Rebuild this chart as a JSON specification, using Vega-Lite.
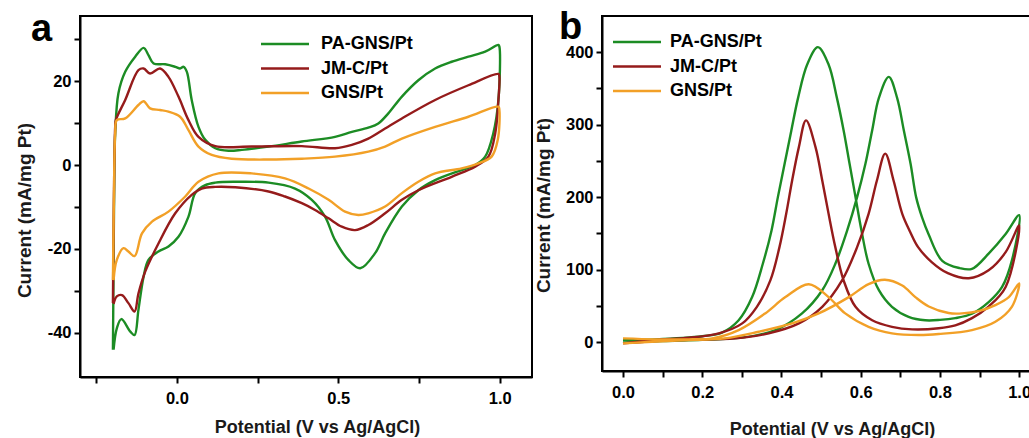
{
"$schema": "https://vega.github.io/schema/vega-lite/v6.json",
"background": "white",
"padding": {"left": 14, "top": 8, "right": 0, "bottom": 0},
"spacing": 0,
"datasets": {
"cv": [
{"s":"PA-GNS/Pt","i":1,"v":-0.198,"c":-44.0},{"s":"PA-GNS/Pt","i":2,"v":-0.196,"c":-24.2},{"s":"PA-GNS/Pt","i":3,"v":-0.194,"c":-4.4},{"s":"PA-GNS/Pt","i":4,"v":-0.191,"c":7.5},{"s":"PA-GNS/Pt","i":5,"v":-0.181,"c":17.1},{"s":"PA-GNS/Pt","i":6,"v":-0.160,"c":22.2},{"s":"PA-GNS/Pt","i":7,"v":-0.129,"c":25.8},{"s":"PA-GNS/Pt","i":8,"v":-0.103,"c":27.9},{"s":"PA-GNS/Pt","i":9,"v":-0.088,"c":26.2},{"s":"PA-GNS/Pt","i":10,"v":-0.072,"c":24.2},{"s":"PA-GNS/Pt","i":11,"v":-0.036,"c":24.0},{"s":"PA-GNS/Pt","i":12,"v":-0.005,"c":23.4},{"s":"PA-GNS/Pt","i":13,"v":0.010,"c":23.0},{"s":"PA-GNS/Pt","i":14,"v":0.021,"c":23.4},{"s":"PA-GNS/Pt","i":15,"v":0.031,"c":22.2},{"s":"PA-GNS/Pt","i":16,"v":0.046,"c":15.5},{"s":"PA-GNS/Pt","i":17,"v":0.067,"c":9.1},{"s":"PA-GNS/Pt","i":18,"v":0.088,"c":6.0},{"s":"PA-GNS/Pt","i":19,"v":0.119,"c":4.0},{"s":"PA-GNS/Pt","i":20,"v":0.160,"c":3.4},{"s":"PA-GNS/Pt","i":21,"v":0.201,"c":3.6},{"s":"PA-GNS/Pt","i":22,"v":0.284,"c":4.4},{"s":"PA-GNS/Pt","i":23,"v":0.387,"c":5.6},{"s":"PA-GNS/Pt","i":24,"v":0.490,"c":6.7},{"s":"PA-GNS/Pt","i":25,"v":0.542,"c":7.9},{"s":"PA-GNS/Pt","i":26,"v":0.593,"c":8.9},{"s":"PA-GNS/Pt","i":27,"v":0.624,"c":9.9},{"s":"PA-GNS/Pt","i":28,"v":0.655,"c":12.3},{"s":"PA-GNS/Pt","i":29,"v":0.697,"c":16.3},{"s":"PA-GNS/Pt","i":30,"v":0.748,"c":20.2},{"s":"PA-GNS/Pt","i":31,"v":0.800,"c":23.0},{"s":"PA-GNS/Pt","i":32,"v":0.851,"c":24.6},{"s":"PA-GNS/Pt","i":33,"v":0.903,"c":25.8},{"s":"PA-GNS/Pt","i":34,"v":0.955,"c":27.0},{"s":"PA-GNS/Pt","i":35,"v":0.996,"c":28.6},{"s":"PA-GNS/Pt","i":36,"v":0.999,"c":28.2},{"s":"PA-GNS/Pt","i":37,"v":0.996,"c":15.5},{"s":"PA-GNS/Pt","i":38,"v":0.980,"c":7.5},{"s":"PA-GNS/Pt","i":39,"v":0.955,"c":2.0},{"s":"PA-GNS/Pt","i":40,"v":0.924,"c":0.0},{"s":"PA-GNS/Pt","i":41,"v":0.882,"c":-1.2},{"s":"PA-GNS/Pt","i":42,"v":0.800,"c":-3.6},{"s":"PA-GNS/Pt","i":43,"v":0.748,"c":-6.0},{"s":"PA-GNS/Pt","i":44,"v":0.697,"c":-9.9},{"s":"PA-GNS/Pt","i":45,"v":0.645,"c":-16.3},{"s":"PA-GNS/Pt","i":46,"v":0.614,"c":-21.0},{"s":"PA-GNS/Pt","i":47,"v":0.568,"c":-24.6},{"s":"PA-GNS/Pt","i":48,"v":0.531,"c":-22.6},{"s":"PA-GNS/Pt","i":49,"v":0.490,"c":-17.9},{"s":"PA-GNS/Pt","i":50,"v":0.459,"c":-12.3},{"s":"PA-GNS/Pt","i":51,"v":0.418,"c":-8.3},{"s":"PA-GNS/Pt","i":52,"v":0.366,"c":-5.6},{"s":"PA-GNS/Pt","i":53,"v":0.284,"c":-4.2},{"s":"PA-GNS/Pt","i":54,"v":0.181,"c":-4.0},{"s":"PA-GNS/Pt","i":55,"v":0.119,"c":-4.2},{"s":"PA-GNS/Pt","i":56,"v":0.088,"c":-4.8},{"s":"PA-GNS/Pt","i":57,"v":0.057,"c":-6.7},{"s":"PA-GNS/Pt","i":58,"v":0.036,"c":-12.3},{"s":"PA-GNS/Pt","i":59,"v":0.005,"c":-17.1},{"s":"PA-GNS/Pt","i":60,"v":-0.026,"c":-19.4},{"s":"PA-GNS/Pt","i":61,"v":-0.057,"c":-20.6},{"s":"PA-GNS/Pt","i":62,"v":-0.088,"c":-22.6},{"s":"PA-GNS/Pt","i":63,"v":-0.103,"c":-26.6},{"s":"PA-GNS/Pt","i":64,"v":-0.119,"c":-34.5},{"s":"PA-GNS/Pt","i":65,"v":-0.131,"c":-40.5},{"s":"PA-GNS/Pt","i":66,"v":-0.144,"c":-39.7},{"s":"PA-GNS/Pt","i":67,"v":-0.172,"c":-36.7},{"s":"PA-GNS/Pt","i":68,"v":-0.186,"c":-38.9},{"s":"PA-GNS/Pt","i":69,"v":-0.196,"c":-44.0},
{"s":"JM-C/Pt","i":1,"v":-0.198,"c":-32.9},{"s":"JM-C/Pt","i":2,"v":-0.195,"c":-8.3},{"s":"JM-C/Pt","i":3,"v":-0.191,"c":9.1},{"s":"JM-C/Pt","i":4,"v":-0.189,"c":10.7},{"s":"JM-C/Pt","i":5,"v":-0.160,"c":15.5},{"s":"JM-C/Pt","i":6,"v":-0.119,"c":22.6},{"s":"JM-C/Pt","i":7,"v":-0.103,"c":23.0},{"s":"JM-C/Pt","i":8,"v":-0.083,"c":21.8},{"s":"JM-C/Pt","i":9,"v":-0.052,"c":23.0},{"s":"JM-C/Pt","i":10,"v":-0.026,"c":21.0},{"s":"JM-C/Pt","i":11,"v":0.005,"c":16.3},{"s":"JM-C/Pt","i":12,"v":0.036,"c":10.7},{"s":"JM-C/Pt","i":13,"v":0.067,"c":6.7},{"s":"JM-C/Pt","i":14,"v":0.119,"c":4.5},{"s":"JM-C/Pt","i":15,"v":0.232,"c":4.4},{"s":"JM-C/Pt","i":16,"v":0.387,"c":4.5},{"s":"JM-C/Pt","i":17,"v":0.490,"c":4.0},{"s":"JM-C/Pt","i":18,"v":0.542,"c":4.8},{"s":"JM-C/Pt","i":19,"v":0.593,"c":6.3},{"s":"JM-C/Pt","i":20,"v":0.645,"c":8.7},{"s":"JM-C/Pt","i":21,"v":0.697,"c":11.1},{"s":"JM-C/Pt","i":22,"v":0.800,"c":15.5},{"s":"JM-C/Pt","i":23,"v":0.903,"c":19.0},{"s":"JM-C/Pt","i":24,"v":0.996,"c":21.7},{"s":"JM-C/Pt","i":25,"v":0.999,"c":21.0},{"s":"JM-C/Pt","i":26,"v":0.996,"c":15.5},{"s":"JM-C/Pt","i":27,"v":0.986,"c":7.5},{"s":"JM-C/Pt","i":28,"v":0.965,"c":2.0},{"s":"JM-C/Pt","i":29,"v":0.924,"c":-0.4},{"s":"JM-C/Pt","i":30,"v":0.851,"c":-2.8},{"s":"JM-C/Pt","i":31,"v":0.748,"c":-6.0},{"s":"JM-C/Pt","i":32,"v":0.697,"c":-8.3},{"s":"JM-C/Pt","i":33,"v":0.645,"c":-11.5},{"s":"JM-C/Pt","i":34,"v":0.593,"c":-14.3},{"s":"JM-C/Pt","i":35,"v":0.552,"c":-15.5},{"s":"JM-C/Pt","i":36,"v":0.511,"c":-14.7},{"s":"JM-C/Pt","i":37,"v":0.470,"c":-12.7},{"s":"JM-C/Pt","i":38,"v":0.428,"c":-10.7},{"s":"JM-C/Pt","i":39,"v":0.387,"c":-9.1},{"s":"JM-C/Pt","i":40,"v":0.335,"c":-7.5},{"s":"JM-C/Pt","i":41,"v":0.284,"c":-6.3},{"s":"JM-C/Pt","i":42,"v":0.181,"c":-5.3},{"s":"JM-C/Pt","i":43,"v":0.119,"c":-5.2},{"s":"JM-C/Pt","i":44,"v":0.077,"c":-5.6},{"s":"JM-C/Pt","i":45,"v":0.046,"c":-7.1},{"s":"JM-C/Pt","i":46,"v":-0.005,"c":-11.5},{"s":"JM-C/Pt","i":47,"v":-0.057,"c":-18.7},{"s":"JM-C/Pt","i":48,"v":-0.098,"c":-25.4},{"s":"JM-C/Pt","i":49,"v":-0.119,"c":-30.6},{"s":"JM-C/Pt","i":50,"v":-0.131,"c":-34.9},{"s":"JM-C/Pt","i":51,"v":-0.150,"c":-32.9},{"s":"JM-C/Pt","i":52,"v":-0.170,"c":-31.0},{"s":"JM-C/Pt","i":53,"v":-0.186,"c":-31.3},{"s":"JM-C/Pt","i":54,"v":-0.196,"c":-33.1},
{"s":"GNS/Pt","i":1,"v":-0.198,"c":-27.4},{"s":"GNS/Pt","i":2,"v":-0.195,"c":-8.3},{"s":"GNS/Pt","i":3,"v":-0.191,"c":7.5},{"s":"GNS/Pt","i":4,"v":-0.186,"c":10.7},{"s":"GNS/Pt","i":5,"v":-0.160,"c":11.1},{"s":"GNS/Pt","i":6,"v":-0.119,"c":14.3},{"s":"GNS/Pt","i":7,"v":-0.103,"c":15.2},{"s":"GNS/Pt","i":8,"v":-0.083,"c":13.5},{"s":"GNS/Pt","i":9,"v":-0.052,"c":13.1},{"s":"GNS/Pt","i":10,"v":-0.026,"c":12.7},{"s":"GNS/Pt","i":11,"v":0.010,"c":11.5},{"s":"GNS/Pt","i":12,"v":0.036,"c":8.3},{"s":"GNS/Pt","i":13,"v":0.067,"c":4.4},{"s":"GNS/Pt","i":14,"v":0.108,"c":2.4},{"s":"GNS/Pt","i":15,"v":0.170,"c":1.5},{"s":"GNS/Pt","i":16,"v":0.284,"c":1.3},{"s":"GNS/Pt","i":17,"v":0.387,"c":1.5},{"s":"GNS/Pt","i":18,"v":0.490,"c":2.0},{"s":"GNS/Pt","i":19,"v":0.593,"c":3.2},{"s":"GNS/Pt","i":20,"v":0.645,"c":4.4},{"s":"GNS/Pt","i":21,"v":0.697,"c":6.3},{"s":"GNS/Pt","i":22,"v":0.800,"c":9.1},{"s":"GNS/Pt","i":23,"v":0.903,"c":11.5},{"s":"GNS/Pt","i":24,"v":0.996,"c":13.9},{"s":"GNS/Pt","i":25,"v":0.999,"c":13.1},{"s":"GNS/Pt","i":26,"v":0.994,"c":6.0},{"s":"GNS/Pt","i":27,"v":0.975,"c":2.0},{"s":"GNS/Pt","i":28,"v":0.934,"c":0.4},{"s":"GNS/Pt","i":29,"v":0.882,"c":-0.8},{"s":"GNS/Pt","i":30,"v":0.800,"c":-2.0},{"s":"GNS/Pt","i":31,"v":0.748,"c":-4.0},{"s":"GNS/Pt","i":32,"v":0.697,"c":-6.7},{"s":"GNS/Pt","i":33,"v":0.645,"c":-9.9},{"s":"GNS/Pt","i":34,"v":0.593,"c":-11.5},{"s":"GNS/Pt","i":35,"v":0.562,"c":-11.9},{"s":"GNS/Pt","i":36,"v":0.521,"c":-11.1},{"s":"GNS/Pt","i":37,"v":0.470,"c":-8.3},{"s":"GNS/Pt","i":38,"v":0.408,"c":-5.6},{"s":"GNS/Pt","i":39,"v":0.335,"c":-3.2},{"s":"GNS/Pt","i":40,"v":0.232,"c":-2.0},{"s":"GNS/Pt","i":41,"v":0.129,"c":-2.0},{"s":"GNS/Pt","i":42,"v":0.067,"c":-4.0},{"s":"GNS/Pt","i":43,"v":0.026,"c":-7.5},{"s":"GNS/Pt","i":44,"v":-0.026,"c":-11.1},{"s":"GNS/Pt","i":45,"v":-0.077,"c":-13.5},{"s":"GNS/Pt","i":46,"v":-0.108,"c":-16.3},{"s":"GNS/Pt","i":47,"v":-0.131,"c":-21.7},{"s":"GNS/Pt","i":48,"v":-0.150,"c":-20.6},{"s":"GNS/Pt","i":49,"v":-0.165,"c":-19.8},{"s":"GNS/Pt","i":50,"v":-0.186,"c":-22.6},{"s":"GNS/Pt","i":51,"v":-0.196,"c":-27.4}
],
"lsv": [
{"s":"PA-GNS/Pt","i":1,"v":0.000,"c":2.8},{"s":"PA-GNS/Pt","i":2,"v":0.082,"c":3.7},{"s":"PA-GNS/Pt","i":3,"v":0.150,"c":5.5},{"s":"PA-GNS/Pt","i":4,"v":0.200,"c":8},{"s":"PA-GNS/Pt","i":5,"v":0.250,"c":13},{"s":"PA-GNS/Pt","i":6,"v":0.292,"c":30},{"s":"PA-GNS/Pt","i":7,"v":0.326,"c":62},{"s":"PA-GNS/Pt","i":8,"v":0.353,"c":108},{"s":"PA-GNS/Pt","i":9,"v":0.375,"c":154},{"s":"PA-GNS/Pt","i":10,"v":0.391,"c":200},{"s":"PA-GNS/Pt","i":11,"v":0.408,"c":246},{"s":"PA-GNS/Pt","i":12,"v":0.425,"c":292},{"s":"PA-GNS/Pt","i":13,"v":0.442,"c":337},{"s":"PA-GNS/Pt","i":14,"v":0.465,"c":383},{"s":"PA-GNS/Pt","i":15,"v":0.492,"c":407},{"s":"PA-GNS/Pt","i":16,"v":0.519,"c":383},{"s":"PA-GNS/Pt","i":17,"v":0.540,"c":337},{"s":"PA-GNS/Pt","i":18,"v":0.557,"c":292},{"s":"PA-GNS/Pt","i":19,"v":0.572,"c":246},{"s":"PA-GNS/Pt","i":20,"v":0.587,"c":200},{"s":"PA-GNS/Pt","i":21,"v":0.602,"c":154},{"s":"PA-GNS/Pt","i":22,"v":0.620,"c":108},{"s":"PA-GNS/Pt","i":23,"v":0.646,"c":71.5},{"s":"PA-GNS/Pt","i":24,"v":0.679,"c":48.6},{"s":"PA-GNS/Pt","i":25,"v":0.721,"c":34.8},{"s":"PA-GNS/Pt","i":26,"v":0.763,"c":30},{"s":"PA-GNS/Pt","i":27,"v":0.800,"c":30.5},{"s":"PA-GNS/Pt","i":28,"v":0.839,"c":33},{"s":"PA-GNS/Pt","i":29,"v":0.881,"c":39},{"s":"PA-GNS/Pt","i":30,"v":0.923,"c":55},{"s":"PA-GNS/Pt","i":31,"v":0.957,"c":76},{"s":"PA-GNS/Pt","i":32,"v":0.982,"c":113},{"s":"PA-GNS/Pt","i":33,"v":1.000,"c":175},{"s":"PA-GNS/Pt","i":34,"v":0.966,"c":149},{"s":"PA-GNS/Pt","i":35,"v":0.923,"c":122},{"s":"PA-GNS/Pt","i":36,"v":0.881,"c":101},{"s":"PA-GNS/Pt","i":37,"v":0.850,"c":102},{"s":"PA-GNS/Pt","i":38,"v":0.806,"c":112},{"s":"PA-GNS/Pt","i":39,"v":0.772,"c":148},{"s":"PA-GNS/Pt","i":40,"v":0.755,"c":172},{"s":"PA-GNS/Pt","i":41,"v":0.740,"c":200},{"s":"PA-GNS/Pt","i":42,"v":0.726,"c":246},{"s":"PA-GNS/Pt","i":43,"v":0.709,"c":292},{"s":"PA-GNS/Pt","i":44,"v":0.692,"c":337},{"s":"PA-GNS/Pt","i":45,"v":0.671,"c":366},{"s":"PA-GNS/Pt","i":46,"v":0.646,"c":337},{"s":"PA-GNS/Pt","i":47,"v":0.629,"c":292},{"s":"PA-GNS/Pt","i":48,"v":0.612,"c":246},{"s":"PA-GNS/Pt","i":49,"v":0.591,"c":200},{"s":"PA-GNS/Pt","i":50,"v":0.566,"c":154},{"s":"PA-GNS/Pt","i":51,"v":0.536,"c":108},{"s":"PA-GNS/Pt","i":52,"v":0.503,"c":71.5},{"s":"PA-GNS/Pt","i":53,"v":0.452,"c":39.5},{"s":"PA-GNS/Pt","i":54,"v":0.385,"c":16.5},{"s":"PA-GNS/Pt","i":55,"v":0.300,"c":6},{"s":"PA-GNS/Pt","i":56,"v":0.200,"c":3},{"s":"PA-GNS/Pt","i":57,"v":0.100,"c":1.5},{"s":"PA-GNS/Pt","i":58,"v":0.000,"c":-1.0},
{"s":"JM-C/Pt","i":1,"v":0.000,"c":-1.8},{"s":"JM-C/Pt","i":2,"v":0.082,"c":2.8},{"s":"JM-C/Pt","i":3,"v":0.166,"c":6},{"s":"JM-C/Pt","i":4,"v":0.242,"c":12},{"s":"JM-C/Pt","i":5,"v":0.301,"c":25.7},{"s":"JM-C/Pt","i":6,"v":0.338,"c":48.6},{"s":"JM-C/Pt","i":7,"v":0.372,"c":85},{"s":"JM-C/Pt","i":8,"v":0.395,"c":131},{"s":"JM-C/Pt","i":9,"v":0.412,"c":177},{"s":"JM-C/Pt","i":10,"v":0.427,"c":223},{"s":"JM-C/Pt","i":11,"v":0.444,"c":269},{"s":"JM-C/Pt","i":12,"v":0.462,"c":306},{"s":"JM-C/Pt","i":13,"v":0.486,"c":269},{"s":"JM-C/Pt","i":14,"v":0.503,"c":223},{"s":"JM-C/Pt","i":15,"v":0.519,"c":177},{"s":"JM-C/Pt","i":16,"v":0.536,"c":131},{"s":"JM-C/Pt","i":17,"v":0.557,"c":85},{"s":"JM-C/Pt","i":18,"v":0.587,"c":48.6},{"s":"JM-C/Pt","i":19,"v":0.629,"c":30},{"s":"JM-C/Pt","i":20,"v":0.679,"c":21},{"s":"JM-C/Pt","i":21,"v":0.730,"c":17.5},{"s":"JM-C/Pt","i":22,"v":0.797,"c":19},{"s":"JM-C/Pt","i":23,"v":0.839,"c":23},{"s":"JM-C/Pt","i":24,"v":0.881,"c":33},{"s":"JM-C/Pt","i":25,"v":0.923,"c":49},{"s":"JM-C/Pt","i":26,"v":0.966,"c":76},{"s":"JM-C/Pt","i":27,"v":1.000,"c":161},{"s":"JM-C/Pt","i":28,"v":0.966,"c":124},{"s":"JM-C/Pt","i":29,"v":0.923,"c":99},{"s":"JM-C/Pt","i":30,"v":0.873,"c":88},{"s":"JM-C/Pt","i":31,"v":0.820,"c":95},{"s":"JM-C/Pt","i":32,"v":0.780,"c":110},{"s":"JM-C/Pt","i":33,"v":0.745,"c":131},{"s":"JM-C/Pt","i":34,"v":0.725,"c":152},{"s":"JM-C/Pt","i":35,"v":0.705,"c":177},{"s":"JM-C/Pt","i":36,"v":0.683,"c":223},{"s":"JM-C/Pt","i":37,"v":0.662,"c":260},{"s":"JM-C/Pt","i":38,"v":0.641,"c":223},{"s":"JM-C/Pt","i":39,"v":0.620,"c":177},{"s":"JM-C/Pt","i":40,"v":0.591,"c":131},{"s":"JM-C/Pt","i":41,"v":0.553,"c":85},{"s":"JM-C/Pt","i":42,"v":0.503,"c":48.6},{"s":"JM-C/Pt","i":43,"v":0.444,"c":25.7},{"s":"JM-C/Pt","i":44,"v":0.368,"c":12},{"s":"JM-C/Pt","i":45,"v":0.284,"c":5},{"s":"JM-C/Pt","i":46,"v":0.166,"c":3},{"s":"JM-C/Pt","i":47,"v":0.082,"c":1.5},{"s":"JM-C/Pt","i":48,"v":0.000,"c":-1.8},
{"s":"GNS/Pt","i":1,"v":0.000,"c":5.0},{"s":"GNS/Pt","i":2,"v":0.082,"c":3.7},{"s":"GNS/Pt","i":3,"v":0.166,"c":3.7},{"s":"GNS/Pt","i":4,"v":0.225,"c":5},{"s":"GNS/Pt","i":5,"v":0.292,"c":16.5},{"s":"GNS/Pt","i":6,"v":0.359,"c":39.5},{"s":"GNS/Pt","i":7,"v":0.410,"c":62},{"s":"GNS/Pt","i":8,"v":0.469,"c":79.8},{"s":"GNS/Pt","i":9,"v":0.519,"c":62},{"s":"GNS/Pt","i":10,"v":0.561,"c":39.5},{"s":"GNS/Pt","i":11,"v":0.620,"c":21},{"s":"GNS/Pt","i":12,"v":0.679,"c":12},{"s":"GNS/Pt","i":13,"v":0.747,"c":9.6},{"s":"GNS/Pt","i":14,"v":0.797,"c":11},{"s":"GNS/Pt","i":15,"v":0.881,"c":16.5},{"s":"GNS/Pt","i":16,"v":0.940,"c":28},{"s":"GNS/Pt","i":17,"v":0.982,"c":49},{"s":"GNS/Pt","i":18,"v":1.000,"c":81},{"s":"GNS/Pt","i":19,"v":0.974,"c":62},{"s":"GNS/Pt","i":20,"v":0.940,"c":51},{"s":"GNS/Pt","i":21,"v":0.900,"c":43},{"s":"GNS/Pt","i":22,"v":0.856,"c":39.5},{"s":"GNS/Pt","i":23,"v":0.822,"c":40},{"s":"GNS/Pt","i":24,"v":0.772,"c":49},{"s":"GNS/Pt","i":25,"v":0.738,"c":62},{"s":"GNS/Pt","i":26,"v":0.705,"c":78},{"s":"GNS/Pt","i":27,"v":0.661,"c":86},{"s":"GNS/Pt","i":28,"v":0.620,"c":80},{"s":"GNS/Pt","i":29,"v":0.570,"c":62},{"s":"GNS/Pt","i":30,"v":0.494,"c":39.5},{"s":"GNS/Pt","i":31,"v":0.427,"c":25.7},{"s":"GNS/Pt","i":32,"v":0.343,"c":14.2},{"s":"GNS/Pt","i":33,"v":0.258,"c":5},{"s":"GNS/Pt","i":34,"v":0.150,"c":2.5},{"s":"GNS/Pt","i":35,"v":0.000,"c":-1.8}
]
},
"config": {
"font": "Liberation Sans",
"view": {"stroke": "black", "strokeWidth": 2},
"axis": {"grid": false, "domainColor": "black", "domainWidth": 2, "tickColor": "black", "tickWidth": 2, "tickSize": 6, "labelFont": "Liberation Sans", "labelFontWeight": "bold", "labelFontSize": 16.5, "labelColor": "black", "titleFont": "Liberation Sans", "titleFontWeight": "bold", "titleFontSize": 18, "titleColor": "#1a1a1a"},
"legend": {"orient": "none", "title": null, "symbolType": "M-4,0H4", "symbolSize": 144, "symbolStrokeWidth": 2.5, "labelFont": "Liberation Sans", "labelFontSize": 18, "labelFontWeight": "bold", "labelColor": "black", "labelOffset": 27, "rowPadding": 6.5, "padding": 0},
"title": {"font": "Liberation Sans", "fontSize": 38, "fontWeight": "bold", "color": "black", "anchor": "start", "frame": "group", "offset": 0, "baseline": "alphabetic"}
},
"resolve": {"scale": {"x": "independent", "y": "independent", "color": "shared"}, "legend": {"color": "independent"}},
"hconcat": [
{
"width": 452, "height": 361,
"title": {"text": "a", "dx": -49, "dy": 37},
"data": {"name": "cv"},
"mark": {"type": "line", "strokeWidth": 2.4, "interpolate": "catmull-rom"},
"encoding": {
"x": {"field": "v", "type": "quantitative", "scale": {"domain": [-0.3, 1.1], "nice": false, "zero": false}, "axis": {"title": "Potential (V vs Ag/AgCl)", "values": [-0.25, 0, 0.25, 0.5, 0.75, 1], "labelExpr": "abs(datum.value*2 - round(datum.value*2)) < 0.001 ? format(datum.value, '.1f') : ''", "labelPadding": 7, "titlePadding": 12, "titleX": 237}},
"y": {"field": "c", "type": "quantitative", "scale": {"domain": [-50.5, 35.5], "nice": false, "zero": false}, "axis": {"title": "Current (mA/mg Pt)", "titleFontSize": 19, "values": [-40, -30, -20, -10, 0, 10, 20, 30], "labelExpr": "datum.value % 20 == 0 ? '' + datum.value : ''", "labelPadding": 3, "titleX": -46, "titleY": 194}},
"color": {"field": "s", "type": "nominal", "scale": {"domain": ["PA-GNS/Pt", "JM-C/Pt", "GNS/Pt"], "range": ["#1c8c24", "#951b1b", "#f2a027"]}, "legend": {"legendX": 196, "legendY": 19}},
"order": {"field": "i", "type": "quantitative"}
}
},
{
"width": 429, "height": 355,
"title": {"text": "b", "dx": -43, "dy": 35},
"data": {"name": "lsv"},
"mark": {"type": "line", "strokeWidth": 2.4, "interpolate": "catmull-rom"},
"encoding": {
"x": {"field": "v", "type": "quantitative", "scale": {"domain": [-0.053, 1.03], "nice": false, "zero": false}, "axis": {"title": "Potential (V vs Ag/AgCl)", "values": [0, 0.1, 0.2, 0.3, 0.4, 0.5, 0.6, 0.7, 0.8, 0.9, 1.0], "labelExpr": "round(datum.value*10) % 2 == 0 ? format(datum.value, '.1f') : ''", "labelPadding": 7, "titlePadding": 20, "titleX": 230}},
"y": {"field": "c", "type": "quantitative", "scale": {"domain": [-40, 450], "nice": false, "zero": false}, "axis": {"title": "Current (mA/mg Pt)", "titleFontSize": 19, "values": [0, 50, 100, 150, 200, 250, 300, 350, 400], "labelExpr": "datum.value % 100 == 0 ? '' + datum.value : ''", "labelPadding": 3, "titleX": -49, "titleY": 189}},
"color": {"field": "s", "type": "nominal", "scale": {"domain": ["PA-GNS/Pt", "JM-C/Pt", "GNS/Pt"], "range": ["#1c8c24", "#951b1b", "#f2a027"]}, "legend": {"legendX": 26, "legendY": 17, "labelOffset": 24}},
"order": {"field": "i", "type": "quantitative"}
}
}
]
}
